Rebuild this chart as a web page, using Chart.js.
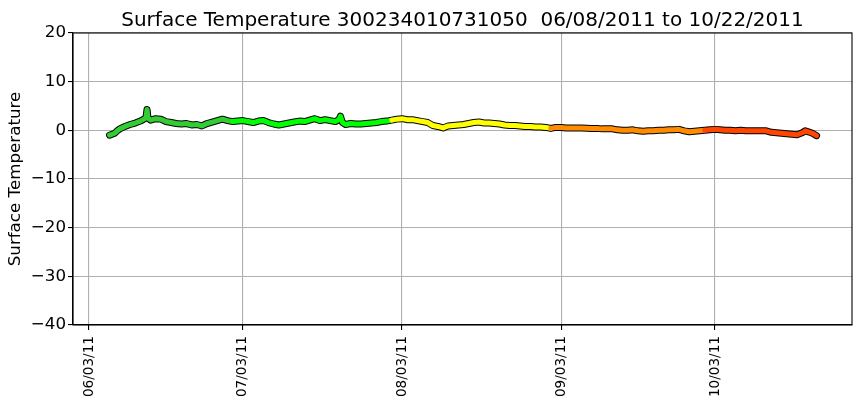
<!DOCTYPE html>
<html>
<head>
<meta charset="utf-8">
<script src="https://cdn.jsdelivr.net/npm/chart.js@4.4.1/dist/chart.umd.min.js"></script>
<style>
  html,body{margin:0;padding:0;background:#fff}
  #wrap{width:860px;height:408px;position:relative}
</style>
</head>
<body>
<div id="wrap"><canvas id="c"></canvas></div>
<script>
// daily readings per month (day of month, fractional where a spike sits between days)
const juneDays  = [7,7.5,8,8.5,9,10,11,12,13,13.7,14.1,14.3,14.5,15,16,17,18,19,20,21,22,23,24,25,26,27,28,29,30];
const juneTemps = [-1.0,-0.8,-0.6,-0.1,0.3,0.8,1.2,1.5,1.9,2.3,2.6,4.3,2.5,2.1,2.4,2.3,1.8,1.6,1.4,1.3,1.4,1.1,1.2,0.9,1.4,1.7,2.0,2.3,2.0];
const julyDays  = [1,2,3,4,5,6,7,8,9,10,11,12,13,14,15,16,17,18,19,20,21,21.7,22,22.4,23,24,25,26,27,28,29,30,31];
const julyTemps = [1.8,1.9,2.0,1.8,1.6,1.9,2.0,1.6,1.3,1.1,1.3,1.5,1.7,1.9,1.8,2.1,2.4,2.0,2.2,2.0,1.8,2.2,2.9,1.6,1.2,1.4,1.3,1.3,1.4,1.5,1.6,1.8,1.9];
const augDays   = [1,2,3,4,5,6,7,8,9,10,11,12,13,14,15,16,17,18,19,20,21,22,23,24,25,26,27,28,29,30,31];
const augTemps  = [2.1,2.3,2.4,2.2,2.2,2.0,1.8,1.6,1.0,0.8,0.5,0.9,1.0,1.1,1.2,1.4,1.6,1.7,1.5,1.5,1.4,1.3,1.1,1.0,1.0,0.9,0.8,0.8,0.7,0.7,0.6];
const sepDays   = [1,2,3,4,5,6,7,8,9,10,11,12,13,14,15,16,17,18,19,20,21,22,23,24,25,26,27,28,29,30];
const sepTemps  = [0.4,0.6,0.6,0.5,0.5,0.5,0.5,0.45,0.4,0.4,0.3,0.3,0.3,0.1,0.0,0.0,0.1,-0.1,-0.2,-0.1,-0.1,0.0,0.0,0.1,0.1,0.2,-0.1,-0.3,-0.2,-0.1];
const octDays   = [1,2,3,4,5,6,7,8,9,10,11,12,13,14,15,16,17,18,19,20,20.6,21.2,22,22.8];
const octTemps  = [0.0,0.1,0.2,0.1,0.0,0.0,-0.1,0.0,-0.1,-0.1,-0.1,-0.1,-0.1,-0.4,-0.5,-0.6,-0.7,-0.8,-0.9,-0.5,-0.1,-0.3,-0.6,-1.1];

const tickDates = ['06/03/11','07/03/11','08/03/11','09/03/11','10/03/11'];
const yTicks = [-40,-30,-20,-10,0,10,20];
const monthColors = {5:'#32CD32',6:'#00FF00',7:'#FFFF00',8:'#FF8C00',9:'#FF4500'};
const TITLE = 'Surface Temperature 300234010731050  06/08/2011 to 10/22/2011';

const DAY = 86400000;
const months = [[5,juneDays,juneTemps],[6,julyDays,julyTemps],[7,augDays,augTemps],[8,sepDays,sepTemps],[9,octDays,octTemps]];
const pts = [];
months.forEach(([m,days,temps])=>days.forEach((d,i)=>pts.push({x:Date.UTC(2011,m,1)+(d-1)*DAY,y:temps[i]})));

const parseTick = s => {const [mm,dd,yy]=s.split('/').map(Number);return Date.UTC(2000+yy,mm-1,dd);};
const pad2 = n => String(n).padStart(2,'0');
const fmtTick = v => {const d=new Date(v);return pad2(d.getUTCMonth()+1)+'/'+pad2(d.getUTCDate())+'/'+pad2(d.getUTCFullYear()%100);};

const FONT = 'DejaVu Sans';
// frame round the plot + title centred over the plot area (matplotlib style)
const frame = {
  id:'frame',
  afterDraw(ch){
    const a=ch.chartArea, c=ch.ctx;
    c.save(); c.strokeStyle='#000'; c.lineWidth=1.1;
    c.strokeRect(a.left,a.top,a.right-a.left,a.bottom-a.top);
    c.fillStyle='#000'; c.font='20px "'+FONT+'"'; c.textAlign='center'; c.textBaseline='alphabetic';
    c.fillText(TITLE,(a.left+a.right)/2,26);
    c.restore();
  }
};

new Chart(document.getElementById('c'),{
  type:'line',
  data:{datasets:[
    {data:pts,order:0,borderWidth:5,pointRadius:0,tension:0,borderCapStyle:'round',borderJoinStyle:'round',
     borderColor:'#32CD32',segment:{borderColor:ctx=>monthColors[new Date(ctx.p0.parsed.x).getUTCMonth()]}},
    {data:pts,order:1,borderWidth:7,pointRadius:0,tension:0,borderCapStyle:'round',borderJoinStyle:'round',borderColor:'#000'}
  ]},
  options:{
    responsive:true,maintainAspectRatio:false,animation:false,
    layout:{padding:{left:0,right:8,top:33,bottom:0}},
    plugins:{legend:{display:false},tooltip:{enabled:false},title:{display:false}},
    scales:{
      x:{type:'linear',min:Date.UTC(2011,4,30,21),max:Date.UTC(2011,9,29,17),
        afterBuildTicks:s=>{s.ticks=tickDates.map(t=>({value:parseTick(t)}));},
        afterFit:s=>{s.height=83;},
        grid:{color:'#b0b0b0',lineWidth:1.1,tickColor:'#000',tickLength:5,drawTicks:true},
        border:{display:true,color:'#000',width:1.1},
        ticks:{callback:v=>fmtTick(v),maxRotation:90,minRotation:90,autoSkip:false,padding:6,color:'#000',font:{family:FONT,size:13.6}}
      },
      y:{min:-40,max:20,
        afterBuildTicks:s=>{s.ticks=yTicks.map(v=>({value:v}));},
        afterFit:s=>{s.width=73;},
        grid:{color:'#b0b0b0',lineWidth:1.1,tickColor:'#000',tickLength:5},
        border:{display:true,color:'#000',width:1.1},
        title:{display:true,text:'Surface Temperature',color:'#000',font:{family:FONT,size:16.7},padding:{top:6,bottom:0}},
        ticks:{callback:v=>v<0?'\u2212'+Math.abs(v):String(v),padding:2,color:'#000',font:{family:FONT,size:16.7}}
      }
    }
  },
  plugins:[frame]
});
</script>
</body>
</html>
